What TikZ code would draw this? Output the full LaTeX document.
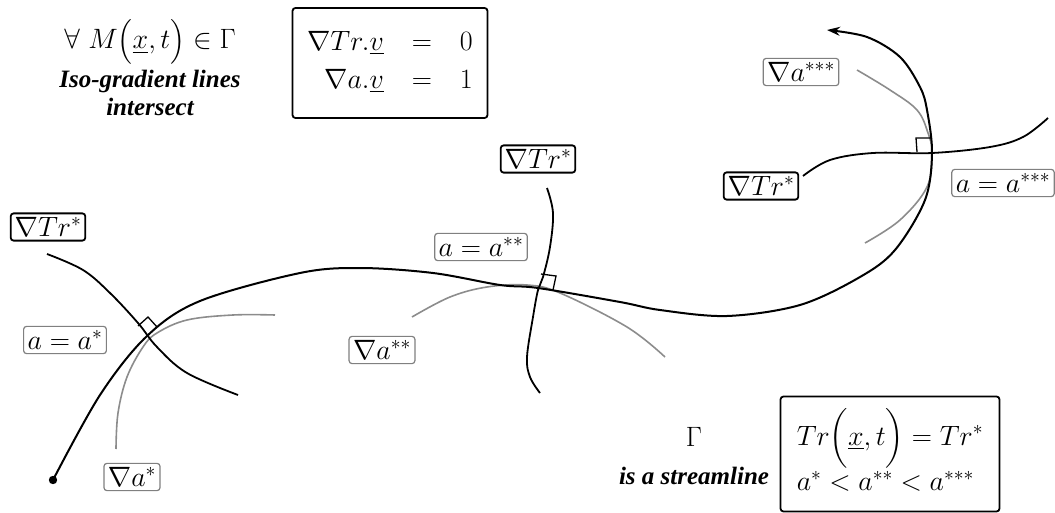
\documentclass[tikz,border=0pt]{standalone}
\usepackage{fix-cm}
\usepackage{amsmath}
\usepackage{exscale}
\usepackage{fontspec}
\newfontfamily\tnr{Liberation Serif}
\usetikzlibrary{arrows.meta}
\tikzset{
  lbl/.style={font=\fontsize{28}{32}\selectfont, inner sep=4pt},
  blackbox/.style={lbl, draw=black, line width=1.8pt, rounded corners=3pt},
  graybox/.style={lbl, draw=black!50, line width=1.2pt, rounded corners=3pt},
  mainline/.style={line width=2pt, black},
  isoline/.style={line width=1.8pt, black},
  grayline/.style={line width=1.6pt, black!45},
  rmark/.style={line width=1.3pt, black},
  itxt/.style={font=\fontsize{25}{28}\selectfont\tnr\bfseries\itshape, inner sep=0pt}
}
\begin{document}
\begin{tikzpicture}[x=1pt,y=-1pt]
\useasboundingbox (0,0) rectangle (1055,513);

% top-left texts
\node[lbl, inner sep=0pt] (forall) at (150,42) {$\forall\ M\bigl(\underline{x},t\bigr)\in\Gamma$};
\node[itxt] (iso1) at (150,81) {Iso-gradient lines};
\node[itxt] (iso2) at (150,107) {intersect};

% top equations box
\node[blackbox, minimum width=195pt, minimum height=110pt] (eqbox) at (390,63)
  {$\begin{array}{r@{\quad}c@{\quad}l}
    \nabla T r.\underline{v} & = & 0\\[6pt]
    \nabla a.\underline{v} & = & 1
   \end{array}$};

% bottom right
\node[lbl] (gam) at (694,437) {$\Gamma$};
\node[itxt] (stream) at (694,476) {is a streamline};
\node[blackbox, minimum width=219pt, minimum height=115pt] (condbox) at (890,454)
  {$\begin{array}{l}
    T r\Bigl(\underline{x},t\Bigr) = T r^{*}\\[2pt]
    a^{*} < a^{**} < a^{***}
   \end{array}$};

% labels
\node[blackbox] (tr1) at (48,227) {$\nabla T r^{*}$};
\node[blackbox] (tr2) at (538,159) {$\nabla T r^{*}$};
\node[blackbox] (tr3) at (761,186) {$\nabla T r^{*}$};
\node[graybox] (aa1) at (65,340) {$a = a^{*}$};
\node[graybox] (ga1) at (132,477) {$\nabla a^{*}$};
\node[graybox] (aa2) at (481,247) {$a = a^{**}$};
\node[graybox] (ga2) at (382,350) {$\nabla a^{**}$};
\node[graybox] (ga3) at (801,72) {$\nabla a^{***}$};
\node[graybox] (aa3) at (1003,183) {$a = a^{***}$};

% gray gradient lines
\draw[grayline] plot[smooth, tension=0.6] coordinates
  {(116,449) (118,413) (127,377) (143,347) (157,333) (187,320) (233,315) (275,315)};
\draw[grayline] plot[smooth, tension=0.6] coordinates
  {(412,317) (450,297) (487,287) (527,285) (560,293) (627,327) (665,357)};
\draw[grayline] plot[smooth, tension=0.6] coordinates
  {(857,70) (890,90) (917,110) (928,133) (932,153) (927,187) (900,220) (865,243)};

% iso Tr lines
\draw[isoline] plot[smooth, tension=0.6] coordinates
  {(47,254) (83,270) (110,293) (138,323) (157,347) (187,373) (238,395)};
\draw[isoline] plot[smooth, tension=0.6] coordinates
  {(547,188) (553,213) (550,247) (543,277) (538,290) (533,317) (527,357) (530,377) (540,393)};
\draw[isoline] plot[smooth, tension=0.6] coordinates
  {(803,176) (830,160) (873,153) (932,153) (990,147) (1023,137) (1048,118)};

% streamline
\coordinate (start) at (53,480);
\coordinate (tip) at (827,30);
\fill (start) circle (4.2pt);
\draw[mainline, -{Stealth[length=13pt,width=9pt]}] plot[smooth, tension=0.55] coordinates
  {(53,480) (100,395) (147,336) (200,301) (300,273) (360,268) (433,273) (500,285) (538,288)
   (620,302) (660,310) (727,316) (800,305) (860,277) (895,250) (925,200) (932,153)
   (927,110) (920,87) (900,57) (867,37) (827,30)};

% right-angle marks
\draw[rmark] (138,326) -- (148,317) -- (157,327);
\draw[rmark] (541,274) -- (556,276) -- (553,290);
\draw[rmark] (917,152) -- (916,138) -- (931,138);
\end{tikzpicture}
\end{document}
